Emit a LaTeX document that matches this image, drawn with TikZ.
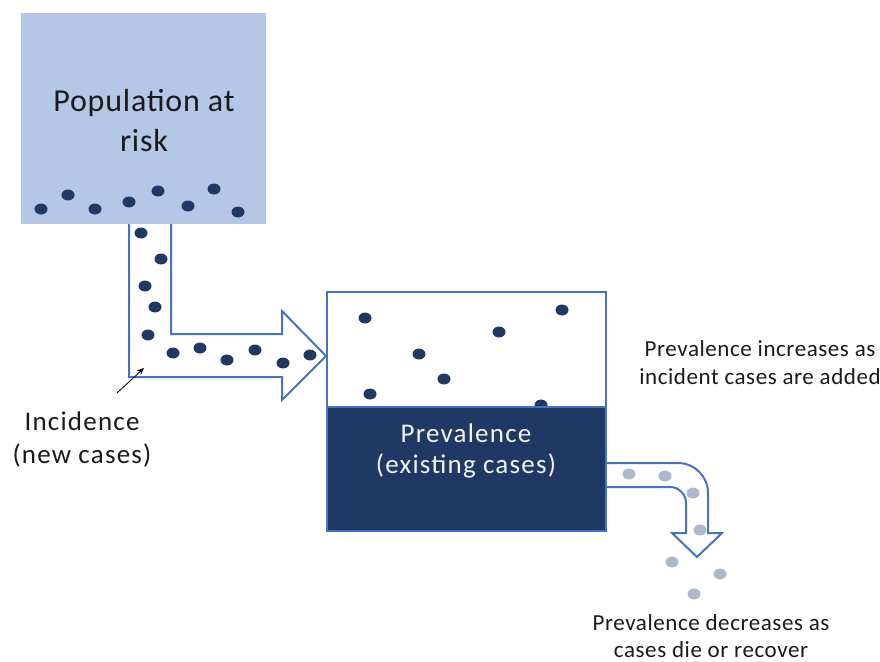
\documentclass[tikz,border=0pt]{standalone}
\usepackage{fontspec}
\setmainfont{Carlito}[LetterSpace=2.5]
\newfontfamily\widefont{Carlito}[LetterSpace=4.5]
\usetikzlibrary{arrows.meta}
\definecolor{popfill}{HTML}{B4C7E7}
\definecolor{arrowblue}{HTML}{4472C4}
\definecolor{navy}{HTML}{1F3864}
\definecolor{dotnavy}{HTML}{203864}
\definecolor{dotgrey}{HTML}{ADB9CA}
\definecolor{txt}{HTML}{1A1A1A}
\definecolor{lighttxt}{HTML}{F2F2F2}
\tikzset{
  dot/.style={fill=dotnavy, draw=none},
  gdot/.style={fill=dotgrey, draw=none},
  outline/.style={draw=arrowblue, line width=2pt, line join=miter},
  lbl/.style={inner sep=0pt, align=center, text=txt},
}
\newcommand{\ndot}[2]{\fill[dot] (#1,#2) ellipse [x radius=6.5, y radius=5.5];}
\newcommand{\gdotat}[2]{\fill[gdot] (#1,#2) ellipse [x radius=6.5, y radius=5.5];}
\begin{document}
\begin{tikzpicture}[x=1pt,y=-1pt]
\useasboundingbox (0,0) rectangle (880,661);
% population box
\fill[popfill] (21,13) rectangle (266,224);
\node[lbl, font=\fontsize{32}{40}\selectfont] (pop) at (144,121) {Population at\\risk};
\foreach \x/\y in {41/209,68/195,95/209,129/202,158/191,188/206,214/189,238/212} {\ndot{\x}{\y}}
% L arrow
\draw[outline] (129,224) -- (129,377) -- (282,377) -- (282,400) -- (326,356) -- (282,311) -- (282,334) -- (171,334) -- (171,224);
\foreach \x/\y in {141/233,161/259,145/286,155/307,148/335,173/353,200/348,227/360,255/350,283/363,310/355} {\ndot{\x}{\y}}
% prevalence box
\draw[outline, fill=white] (327,292) rectangle (606,531);
\foreach \x/\y in {365/318,419/354,444/379,370/394,499/332,562/310,541/405} {\ndot{\x}{\y}}
\draw[outline, fill=navy] (327,407) rectangle (606,531);
\node[lbl, text=lighttxt, font=\widefont\fontsize{27}{31}\selectfont] (prev) at (466,451) {Prevalence\\(existing cases)};
% curved outflow arrow
\draw[outline] (606,463) -- (678,463) .. controls (694.6,463) and (708,476.4) .. (708,493)
  -- (708,533) -- (722,533) -- (697,557) -- (672,533) -- (686,533) -- (686,503)
  .. controls (686,494.2) and (678.8,487) .. (670,487) -- (606,487);
\foreach \x/\y in {629/474,665/476,693/493,700/530,672/562,720/574,694/594} {\gdotat{\x}{\y}}
% labels
\node[lbl, font=\widefont\fontsize{27}{33}\selectfont] (inc) at (82,439) {Incidence\\(new cases)};
\coordinate (incarrowstart) at (117,393);
\coordinate (incarrowend) at (144,368);
\draw[-{Stealth[length=7pt,width=6pt]}, line width=0.8pt, black] (incarrowstart) -- (incarrowend);
\node[lbl, font=\fontsize{23}{28}\selectfont] (incr) at (760,363) {Prevalence increases as\\incident cases are added};
\node[lbl, font=\fontsize{23}{27}\selectfont] (decr) at (711,636) {Prevalence decreases as\\cases die or recover};
\end{tikzpicture}
\end{document}
